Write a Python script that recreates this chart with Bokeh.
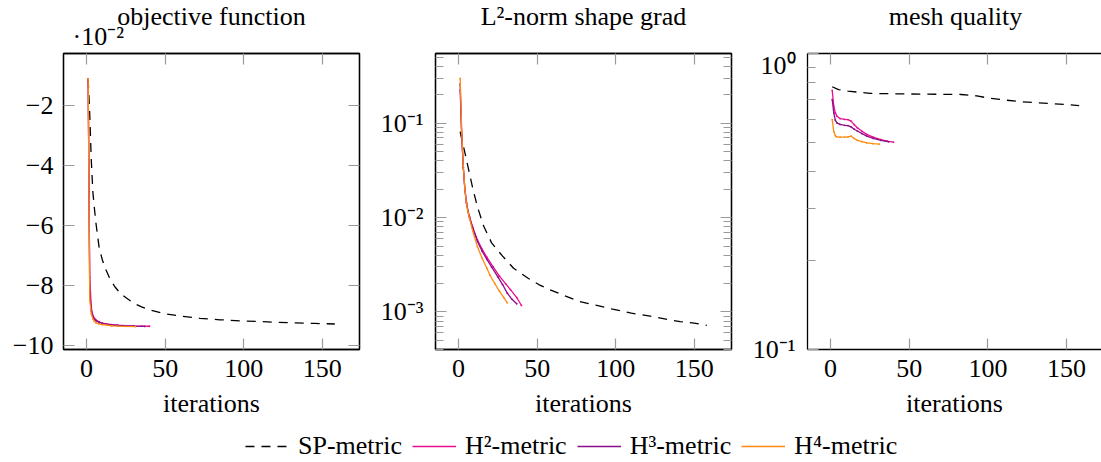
from bokeh.plotting import figure
from bokeh.layouts import column, row
from bokeh.models import (Range1d, LinearAxis, LogAxis, FixedTicker, Legend, LegendItem,
                          CustomJSTickFormatter)
from bokeh.core.properties import value
from bokeh.embed import file_html
from bokeh.resources import INLINE

FONT = "Liberation Serif"

# ---------------- data ----------------
titles = ["objective function", "L²-norm shape grad", "mesh quality"]
obj_scale_label = "·10⁻²"
series_names = ["SP-metric", "H²-metric", "H³-metric", "H⁴-metric"]
x_ticks = [0, 50, 100, 150]
obj_ticks = [-10, -8, -6, -4, -2]

# objective function (x 1e-2)
obj_sp_it = [1, 2, 3, 4, 5, 6, 8, 10, 12, 15, 18, 22, 26, 30, 35, 40, 50, 60, 72, 85, 100, 115, 130, 145, 158]
obj_sp = [-1.13, -2.3, -3.85, -4.9, -5.45, -5.95, -6.75, -7.15, -7.45, -7.8, -8.05, -8.3, -8.45, -8.6,
          -8.72, -8.82, -8.95, -9.03, -9.1, -9.15, -9.19, -9.22, -9.25, -9.27, -9.29]
obj_h2_it = [1, 2, 3, 4, 5, 6, 8, 10, 13, 16, 20, 25, 30, 35, 40]
obj_h2 = [-1.13, -7.73, -8.75, -9.0, -9.1, -9.16, -9.22, -9.26, -9.29, -9.31, -9.33, -9.345, -9.355, -9.36, -9.365]
obj_h3_it = [1, 2, 3, 4, 5, 6, 8, 10, 13, 16, 20, 25, 30, 37]
obj_h3 = [-1.13, -8.2, -8.85, -9.05, -9.13, -9.18, -9.24, -9.27, -9.3, -9.32, -9.34, -9.35, -9.36, -9.37]
obj_h4_it = [1, 2, 3, 4, 5, 6, 8, 10, 13, 16, 20, 25, 31]
obj_h4 = [-1.13, -8.5, -8.95, -9.12, -9.2, -9.25, -9.29, -9.31, -9.33, -9.35, -9.36, -9.37, -9.375]

# L2-norm shape gradient
grad_sp_it = [1, 2, 3, 4, 6, 9, 12, 16, 21, 28, 35, 44, 51, 58, 66, 77, 88, 98, 110, 122, 133, 141, 150, 158]
grad_sp = [0.0815, 0.068, 0.058, 0.049, 0.0345, 0.0205, 0.0130, 0.0081, 0.0054, 0.0039, 0.0029, 0.00229,
           0.00195, 0.00172, 0.00152, 0.00129, 0.00117, 0.00107, 0.00097, 0.00090, 0.00083, 0.00079,
           0.00076, 0.00072]
grad_h2_it = [1, 2, 3, 4, 5, 6, 7, 9, 12, 15, 18, 22, 26, 30, 33, 37, 40]
grad_h2 = [0.225, 0.072, 0.034, 0.02, 0.0145, 0.0118, 0.0102, 0.0079, 0.0058, 0.0046, 0.0038, 0.0030,
           0.0024, 0.00198, 0.00172, 0.00142, 0.00117]
grad_h3_it = [1, 2, 3, 4, 5, 6, 7, 9, 12, 15, 18, 21, 25, 28, 31, 34, 37]
grad_h3 = [0.26, 0.075, 0.034, 0.02, 0.0143, 0.0116, 0.0100, 0.0077, 0.0056, 0.0044, 0.0036, 0.0030,
           0.00235, 0.00195, 0.00158, 0.00136, 0.00122]
grad_h4_it = [1, 2, 3, 4, 5, 6, 7, 9, 12, 15, 18, 20, 23, 26, 29, 31]
grad_h4 = [0.299, 0.08, 0.035, 0.02, 0.0142, 0.0114, 0.0097, 0.0072, 0.0049, 0.0037, 0.0029, 0.00245,
           0.0020, 0.00166, 0.00140, 0.00125]

# mesh quality
mq_sp_it = [1, 5, 11, 20, 25, 40, 57, 70, 83, 92, 100, 110, 121, 132, 142, 150, 158]
mq_sp = [0.772, 0.755, 0.746, 0.738, 0.733, 0.731, 0.729, 0.728, 0.727, 0.72, 0.708, 0.697, 0.687,
         0.681, 0.676, 0.672, 0.667]
mq_h2_it = [1, 2, 3, 4, 6, 9, 11, 13, 15, 17, 20, 23, 27, 32, 36, 40]
mq_h2 = [0.751, 0.664, 0.63, 0.614, 0.603, 0.599, 0.598, 0.591, 0.575, 0.561, 0.546, 0.533, 0.522,
         0.512, 0.506, 0.502]
mq_h3_it = [1, 2, 3, 4, 6, 9, 11, 13, 15, 17, 20, 23, 27, 32, 37]
mq_h3 = [0.699, 0.63, 0.595, 0.583, 0.576, 0.572, 0.571, 0.565, 0.555, 0.547, 0.536, 0.526, 0.517,
         0.509, 0.503]
mq_h4_it = [1, 2, 3, 4, 6, 9, 11, 13, 15, 17, 20, 23, 27, 31]
mq_h4 = [0.598, 0.545, 0.527, 0.523, 0.522, 0.522, 0.523, 0.526, 0.516, 0.509, 0.504, 0.499, 0.496, 0.494]

# ---------------- style / layout constants ----------------
COLORS = ["black", "#ec0c8f", "#8a0f8c", "#ff8a10"]
TICK_COLOR = "#9a9a9a"
LBL = "26px"
TTL = "26px"
TOP_H = 50          # height of the title strip
PANEL_H = 370       # height of the panel row
PANEL_TOP = 3       # border above each panel frame
LEG_H = 42          # height of the legend strip
TITLE_X = [211, 583, 955]     # frame centres (px)
TITLE_Y = 34.5                # text anchor, px from the bottom of the title strip
SCALE_X, SCALE_Y = 72, 14.5

SUP_JS = """
const sup = {'-':'\u207b','0':'\u2070','1':'\u00b9','2':'\u00b2','3':'\u00b3','4':'\u2074',
             '5':'\u2075','6':'\u2076','7':'\u2077','8':'\u2078','9':'\u2079'};
const e = Math.round(Math.log10(tick));
return '10' + String(e).split('').map(c => sup[c]).join('');
"""
MINUS_JS = "return (tick < 0 ? '\u2212' : '') + Math.abs(tick).toString();"
EMPTY_JS = "return '';"


def style_axis(ax, labels=True, minor=False):
    ax.major_tick_in = 11
    ax.major_tick_out = 0
    ax.minor_tick_in = 8 if minor else 0
    ax.minor_tick_out = 0
    ax.major_tick_line_color = TICK_COLOR
    ax.minor_tick_line_color = TICK_COLOR
    ax.major_tick_line_width = 1.2
    ax.minor_tick_line_width = 1.2
    ax.axis_line_color = "black"
    ax.axis_line_width = 1.3
    ax.major_label_text_font = FONT
    ax.major_label_text_font_size = LBL
    ax.major_label_text_color = "black"
    ax.axis_label_text_font = FONT
    ax.axis_label_text_font_size = TTL
    ax.axis_label_text_font_style = "normal"
    ax.axis_label_text_color = "black"
    if not labels:
        ax.formatter = CustomJSTickFormatter(code=EMPTY_JS)
        ax.major_label_text_font_size = "1px"
        ax.major_label_standoff = 0


def bare_fig(width, height):
    f = figure(width=width, height=height, output_backend="svg", toolbar_location=None,
               title=None, x_range=Range1d(0, width), y_range=Range1d(0, height),
               min_border_left=0, min_border_right=0, min_border_top=0, min_border_bottom=0)
    f.axis.visible = False
    f.grid.visible = False
    f.outline_line_color = None
    return f


def make_fig(width, border_left, border_right, y_type, y_range, x_end=173.7):
    p = figure(width=width, height=PANEL_H, output_backend="svg", toolbar_location=None,
               title=None, x_range=Range1d(-14.7, x_end), y_range=y_range, y_axis_type=y_type,
               min_border_left=border_left, min_border_right=border_right,
               min_border_top=PANEL_TOP, min_border_bottom=70)
    p.grid.visible = False
    p.background_fill_color = "white"
    p.border_fill_color = "white"
    p.outline_line_color = "black"
    p.outline_line_width = 1.3
    p.xaxis.ticker = FixedTicker(ticks=x_ticks)
    p.xaxis.axis_label = "iterations"
    p.xaxis.major_label_standoff = 10
    p.xaxis.axis_label_standoff = 9
    style_axis(p.xaxis[0])
    return p


def add_series(p, its, vals, k):
    if k == 0:
        r = p.line(its, vals, line_color=COLORS[0], line_width=1.3, line_dash="9 7")
        return [r]
    r1 = p.line(its, vals, line_color=COLORS[k], line_width=1.3)
    p.scatter(its, vals, size=1.8, marker="circle", fill_color=COLORS[k], line_color=None)
    return [r1]


# ---- title strip ----
pt = bare_fig(1101, TOP_H)
pt.text(x=TITLE_X, y=[TITLE_Y] * 3, text=titles, text_font=value(FONT), text_font_size=TTL,
        text_align="center", text_baseline="alphabetic", text_color="black")
pt.text(x=[SCALE_X], y=[SCALE_Y], text=[obj_scale_label], text_font=value(FONT), text_font_size=LBL,
        text_align="left", text_baseline="alphabetic", text_color="black")

# ---- panel 1 ----
p1 = make_fig(370, 63, 11, "linear", Range1d(-10.14, -0.28))
p1.yaxis.ticker = FixedTicker(ticks=obj_ticks)
p1.yaxis.formatter = CustomJSTickFormatter(code=MINUS_JS)
p1.yaxis.major_label_standoff = 10
style_axis(p1.yaxis[0])
ax = LinearAxis(ticker=FixedTicker(ticks=obj_ticks))
style_axis(ax, labels=False)
p1.add_layout(ax, "right")
ax = LinearAxis(ticker=FixedTicker(ticks=x_ticks))
style_axis(ax, labels=False)
p1.add_layout(ax, "above")
for k, (its, vals) in enumerate([(obj_sp_it, obj_sp), (obj_h2_it, obj_h2),
                                 (obj_h3_it, obj_h3), (obj_h4_it, obj_h4)]):
    add_series(p1, its, vals, k)

# ---- panel 2 ----
g_major = [1e-3, 1e-2, 1e-1]
g_minor = [m * 10.0 ** e for e in (-4, -3, -2, -1) for m in range(2, 10)]
g_minor = [v for v in g_minor if 3.99e-4 <= v <= 0.551]
p2 = make_fig(372, 65, 11, "log", Range1d(3.99e-4, 0.551))
p2.yaxis.ticker = FixedTicker(ticks=g_major, minor_ticks=g_minor)
p2.yaxis.formatter = CustomJSTickFormatter(code=SUP_JS)
p2.yaxis.major_label_standoff = 12
style_axis(p2.yaxis[0], minor=True)
ax = LogAxis(ticker=FixedTicker(ticks=g_major, minor_ticks=g_minor))
style_axis(ax, labels=False, minor=True)
p2.add_layout(ax, "right")
ax = LinearAxis(ticker=FixedTicker(ticks=x_ticks))
style_axis(ax, labels=False)
p2.add_layout(ax, "above")
for k, (its, vals) in enumerate([(grad_sp_it, grad_sp), (grad_h2_it, grad_h2),
                                 (grad_h3_it, grad_h3), (grad_h4_it, grad_h4)]):
    add_series(p2, its, vals, k)

# ---- panel 3 ----
q_major = [0.1, 1.0]
q_minor = [0.2, 0.3, 0.4, 0.5, 0.6, 0.7, 0.8, 0.9]
p3 = make_fig(359, 65, 0, "log", Range1d(0.1, 1.0), x_end=172.2)
p3.outline_line_color = None
p3.yaxis.ticker = FixedTicker(ticks=q_major, minor_ticks=q_minor)
p3.yaxis.formatter = CustomJSTickFormatter(code=SUP_JS)
p3.yaxis.major_label_standoff = 12
style_axis(p3.yaxis[0], minor=True)
ax = LinearAxis(ticker=FixedTicker(ticks=x_ticks))
style_axis(ax, labels=False)
p3.add_layout(ax, "above")
for k, (its, vals) in enumerate([(mq_sp_it, mq_sp), (mq_h2_it, mq_h2),
                                 (mq_h3_it, mq_h3), (mq_h4_it, mq_h4)]):
    add_series(p3, its, vals, k)

# ---- legend strip (series drawn out of view, only their legend samples show) ----
pl = bare_fig(1101, LEG_H)
pl.x_range = Range1d(0, 1)
pl.y_range = Range1d(0, 1)
items = []
for k, (name, (its, vals)) in enumerate(zip(series_names,
                                            [(obj_sp_it, obj_sp), (obj_h2_it, obj_h2),
                                             (obj_h3_it, obj_h3), (obj_h4_it, obj_h4)])):
    rs = add_series(pl, its, vals, k)
    items.append(LegendItem(label=name, renderers=rs))
leg = Legend(items=items, orientation="horizontal", location=(245, 1),
             label_text_font=FONT, label_text_font_size=TTL, label_text_color="black",
             label_standoff=9, glyph_width=44, glyph_height=30, spacing=10, padding=0, margin=0,
             border_line_color=None, background_fill_alpha=0, label_height=30)
pl.add_layout(leg, "center")

layout = column(pt, row(p1, p2, p3), pl)
open("out.html", "w").write(file_html(layout, INLINE))
